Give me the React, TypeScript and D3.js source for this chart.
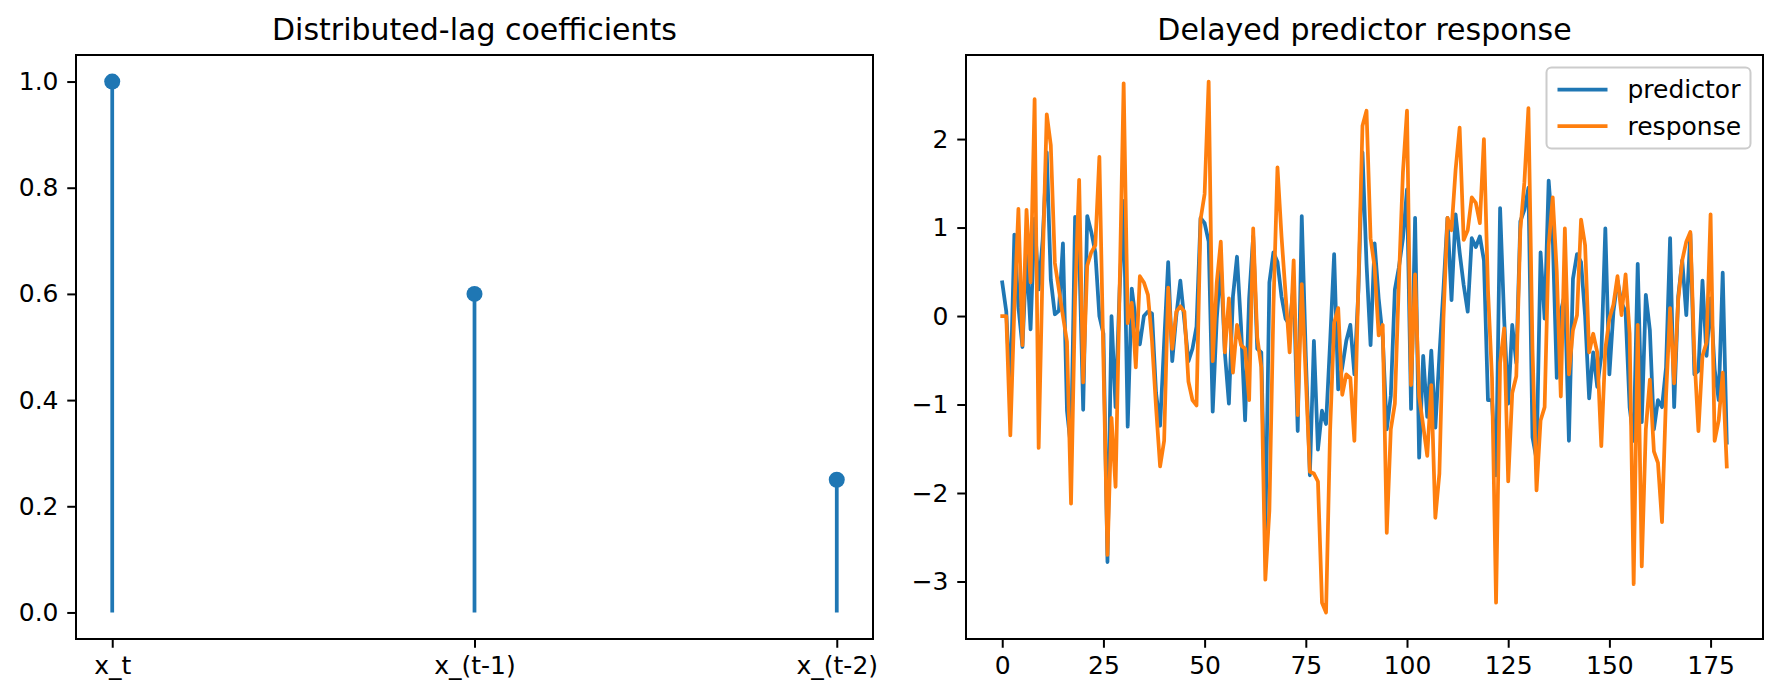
import * as d3 from "d3";
import React, { useRef, useEffect } from "react";

// stem plot
const lagLabels = ["x_t", "x_(t-1)", "x_(t-2)"];
const lagCoefs = [1.0, 0.6, 0.25];

// time series (t = 0..179)
const predictor = [
  0.38, 0.05, -0.9, 0.92, 0.1, -0.35, 0.7, -0.15, 1.1, 0.3,
  0.87, 1.85, 0.41, 0.02, 0.06, 0.82, -1.07, -1.5, 1.12, 0.75,
  -1.06, 1.13, 0.95, 0.72, 0.0, -0.2, -2.78, 0.0, -1.03, 0.3,
  1.3, -1.25, 0.31, -0.05, -0.32, 0.0, 0.05, 0.03, -0.87, -1.24,
  -0.3, 0.61, -0.51, 0.0, 0.4, -0.05, -0.51, -0.37, -0.12, 1.11,
  1.05, 0.84, -1.08, -0.03, 0.6, -0.41, -0.99, 0.22, 0.67, -0.12,
  -1.18, 0.2, 0.9, -0.37, -0.41, -2.5, 0.38, 0.72, 0.61, 0.22,
  -0.03, -0.1, 0.35, -1.3, 1.13, -0.45, -1.8, -0.28, -1.51, -1.07,
  -1.22, -0.3, 0.7, -0.83, -0.58, -0.28, -0.1, -0.66, 0.3, 1.85,
  0.59, -0.33, 0.82, 0.2, -0.24, -1.28, -0.9, 0.3, 0.55, 0.88,
  1.43, -1.05, 1.11, -1.6, -0.45, -1.14, -0.39, -1.26, -0.45, 0.3,
  1.11, 0.18, 1.15, 0.72, 0.35, 0.05, 0.88, 0.78, 0.9, 0.63,
  -0.95, -0.95, -1.8, 1.22, -0.03, -0.99, -0.1, -0.53, 1.07, 1.2,
  1.45, -1.37, -1.62, 0.72, -0.03, 1.53, 0.9, -0.7, 0.05, 0.25,
  -1.41, 0.42, 0.7, 0.61, 0.0, -0.93, -0.41, -0.8, -0.45, 0.99,
  -0.66, 0.05, 0.4, 0.15, 0.05, -1.03, -1.41, 0.59, -1.2, 0.24,
  -0.16, -1.28, -0.95, -1.03, -0.58, 0.88, -1.03, 0.22, 0.63, 0.01,
  0.93, -0.66, -0.62, 0.4, -0.45, 0.2, -0.6, -0.95, 0.49, -1.43,
];

const response = [
  0, 0, -1.35, 0.1, 1.21, -0.33, 1.2, 0.38, 2.45, -1.49,
  0.6, 2.28, 1.93, 0.6, 0.3, 0.0, -0.29, -2.12, 0.2, 1.54,
  -0.75, 0.57, 0.72, 0.8, 1.8, -0.5, -2.7, -1.15, -1.93, 0.3,
  2.63, -0.08, 0.15, -0.58, 0.45, 0.38, 0.24, -0.28, -1.03, -1.7,
  -1.41, 0.32, -0.37, 0.05, 0.11, 0.05, -0.74, -0.95, -1.01, 1.09,
  1.38, 2.65, -0.51, 0.38, 0.84, -0.41, 0.2, -0.64, -0.1, -0.33,
  -0.37, -0.95, 0.99, -0.24, -0.58, -2.98, -2.2, 0.1, 1.68, 0.9,
  0.25, -0.41, 0.63, -1.12, 0.36, -0.7, -1.76, -1.78, -1.87, -3.24,
  -3.35, -1.3, -0.08, 0.09, -0.89, -0.66, -0.7, -1.41, 0.38, 2.15,
  2.32, 0.88, 0.55, -0.22, -0.1, -2.45, -1.28, -0.99, 0.4, 1.63,
  2.32, -0.78, 0.47, -0.91, -1.24, -1.58, -0.78, -2.28, -1.78, -0.03,
  1.11, 0.97, 1.65, 2.13, 0.86, 0.97, 1.34, 1.28, 1.05, 2.0,
  0.3, -0.7, -3.24, -0.53, -0.14, -1.87, -0.87, -0.68, 0.97, 1.51,
  2.35, -0.37, -1.97, -1.18, -1.03, 0.8, 1.34, 0.5, -0.91, 0.99,
  -0.66, -0.16, 0.01, 1.09, 0.8, -0.41, -0.2, -0.41, -1.47, -0.37,
  -0.03, 0.13, 0.45, 0.01, 0.47, -0.2, -3.03, -0.1, -2.83, -1.28,
  -0.72, -1.53, -1.66, -2.33, -0.9, 0.09, -0.76, 0.18, 0.63, 0.84,
  0.95, -0.45, -1.3, -0.45, -0.3, 1.15, -1.41, -1.18, -0.64, -1.7,
];

const seriesNames = ["predictor", "response"];
const seriesColors = ["#1f77b4", "#ff7f0e"];
const rightXTicks = [0, 25, 50, 75, 100, 125, 150, 175];
const rightYTicks = [-3, -2, -1, 0, 1, 2];
const leftYTicks = [0, 0.2, 0.4, 0.6, 0.8, 1.0];

const W = 1782;
const H = 700;
const FONT = "'DejaVu Sans', sans-serif";
const FS = 25; // 10pt @ 180dpi
const TICK = 8.75;

const App: React.FC = () => {
  const svgRef = useRef<SVGSVGElement | null>(null);

  useEffect(() => {
    const svg = d3.select(svgRef.current).attr("width", W).attr("height", H);
    svg.selectAll("*").remove();
    svg.append("rect").attr("width", W).attr("height", H).attr("fill", "#fff");

    const top = 55, bottom = 639;
    const L = { x0: 76, x1: 873 };
    const R = { x0: 966, x1: 1763 };

    const styleAxis = (g: d3.Selection<SVGGElement, unknown, null, undefined>) => {
      g.select(".domain").remove();
      g.selectAll("line").attr("stroke", "#000").attr("stroke-width", 2);
      g.selectAll("text")
        .attr("fill", "#000")
        .style("font-family", FONT)
        .style("font-size", FS + "px");
    };

    const frame = (x0: number, x1: number) => {
      svg.append("rect")
        .attr("x", x0).attr("y", top)
        .attr("width", x1 - x0).attr("height", bottom - top)
        .attr("fill", "none").attr("stroke", "#000").attr("stroke-width", 2);
    };

    const title = (x0: number, x1: number, txt: string) => {
      svg.append("text")
        .attr("x", (x0 + x1) / 2).attr("y", top - 15)
        .attr("text-anchor", "middle")
        .style("font-family", FONT).style("font-size", "30px")
        .text(txt);
    };

    // ---------- left: stem plot ----------
    const lx = d3.scaleLinear().domain([-0.1, 2.1]).range([L.x0, L.x1]);
    const ly = d3.scaleLinear().domain([-0.05, 1.05]).range([bottom, top]);

    const gl = svg.append("g");
    gl.selectAll("line.stem")
      .data(lagCoefs)
      .enter()
      .append("line")
      .attr("x1", (_, i) => lx(i)).attr("x2", (_, i) => lx(i))
      .attr("y1", ly(0)).attr("y2", d => ly(d))
      .attr("stroke", seriesColors[0]).attr("stroke-width", 3.75);
    gl.selectAll("circle")
      .data(lagCoefs)
      .enter()
      .append("circle")
      .attr("cx", (_, i) => lx(i)).attr("cy", d => ly(d))
      .attr("r", 8).attr("fill", seriesColors[0]);

    svg.append("g")
      .attr("transform", `translate(0,${bottom})`)
      .call(d3.axisBottom(lx).tickValues([0, 1, 2]).tickFormat((d) => lagLabels[+d])
        .tickSize(TICK).tickPadding(TICK).tickSizeOuter(0))
      .call(styleAxis);
    svg.append("g")
      .attr("transform", `translate(${L.x0},0)`)
      .call(d3.axisLeft(ly).tickValues(leftYTicks).tickFormat(d3.format(".1f"))
        .tickSize(TICK).tickPadding(TICK).tickSizeOuter(0))
      .call(styleAxis);
    frame(L.x0, L.x1);
    title(L.x0, L.x1, "Distributed-lag coefficients");

    // ---------- right: time series ----------
    const n = predictor.length;
    const rx = d3.scaleLinear().domain([-(n - 1) * 0.05, (n - 1) * 1.05]).range([R.x0, R.x1]);
    const [mn, mx] = d3.extent([...predictor, ...response]) as [number, number];
    const pad = (mx - mn) * 0.05;
    const ry = d3.scaleLinear().domain([mn - pad, mx + pad]).range([bottom, top]);

    const line = d3.line<number>().x((_, i) => rx(i)).y(d => ry(d));
    [predictor, response].forEach((s, k) => {
      svg.append("path")
        .datum(s)
        .attr("d", line)
        .attr("fill", "none")
        .attr("stroke", seriesColors[k])
        .attr("stroke-width", 3.75)
        .attr("stroke-linejoin", "round")
        .attr("stroke-linecap", "square");
    });

    svg.append("g")
      .attr("transform", `translate(0,${bottom})`)
      .call(d3.axisBottom(rx).tickValues(rightXTicks).tickFormat(d3.format("d"))
        .tickSize(TICK).tickPadding(TICK).tickSizeOuter(0))
      .call(styleAxis);
    svg.append("g")
      .attr("transform", `translate(${R.x0},0)`)
      .call(d3.axisLeft(ry).tickValues(rightYTicks).tickFormat(d3.format("d"))
        .tickSize(TICK).tickPadding(TICK).tickSizeOuter(0))
      .call(styleAxis);
    frame(R.x0, R.x1);
    title(R.x0, R.x1, "Delayed predictor response");

    // legend
    const lgW = 204, lgH = 81;
    const lgX = R.x1 - 12.5 - lgW, lgY = top + 12.5;
    const lg = svg.append("g").attr("transform", `translate(${lgX},${lgY})`);
    lg.append("rect")
      .attr("width", lgW).attr("height", lgH)
      .attr("rx", 5).attr("ry", 5)
      .attr("fill", "#fff").attr("fill-opacity", 0.8)
      .attr("stroke", "#cccccc").attr("stroke-width", 2);
    seriesNames.forEach((name, k) => {
      const cy = 22 + k * 36.5;
      lg.append("line")
        .attr("x1", 11).attr("x2", 61)
        .attr("y1", cy).attr("y2", cy)
        .attr("stroke", seriesColors[k]).attr("stroke-width", 3.75);
      lg.append("text")
        .attr("x", 81).attr("y", cy)
        .attr("dy", "0.35em")
        .style("font-family", FONT).style("font-size", FS + "px")
        .text(name);
    });
  }, []);

  return (
    <svg
      ref={svgRef}
      style={{ position: "absolute", left: 0, top: 0, display: "block" }}
    />
  );
};

export default App;
